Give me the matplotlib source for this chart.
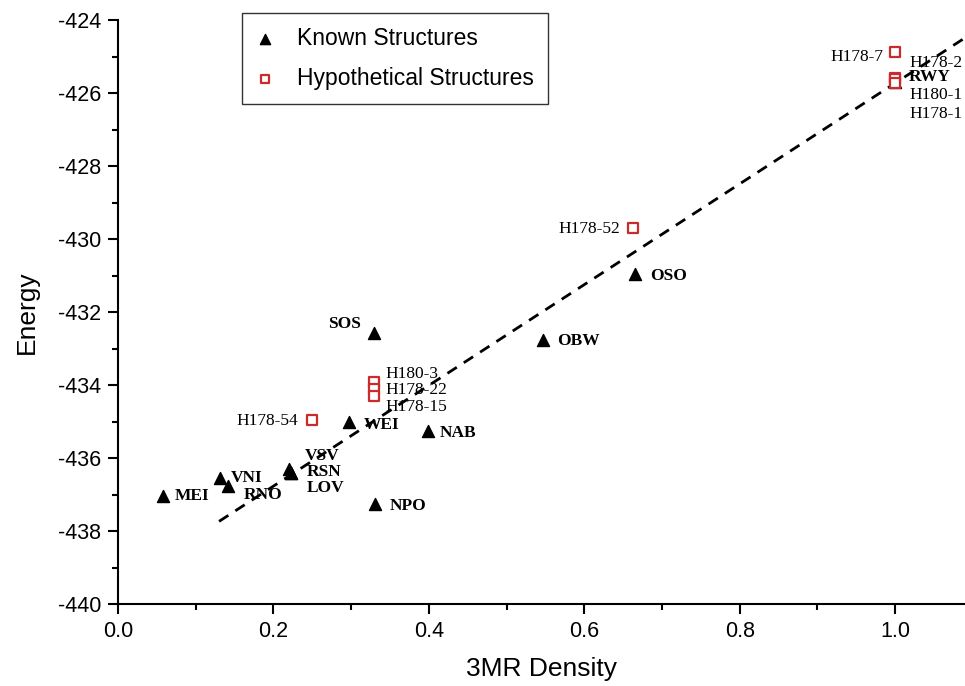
import numpy as np
import matplotlib.pyplot as plt
from matplotlib.ticker import MultipleLocator

# known structures
known_names = ['MEI', 'VNI', 'RNO', 'VSV', 'RSN', 'LOV', 'WEI', 'SOS', 'NPO',
               'NAB', 'OBW', 'OSO', 'RWY']
known_x = [0.058, 0.131, 0.142, 0.220, 0.222, 0.222, 0.297, 0.329, 0.331,
           0.399, 0.547, 0.665, 1.0]
known_y = [-437.05, -436.55, -436.78, -436.30, -436.40, -436.40, -435.0, -432.58,
           -437.25, -435.27, -432.78, -430.95, -425.7]

# hypothetical structures
hyp_names = ['H178-7', 'H178-2', 'H180-1', 'H178-1', 'H178-52', 'H180-3',
             'H178-22', 'H178-15', 'H178-54']
hyp_x = [1.0, 1.0, 1.0, 1.0, 0.663, 0.329, 0.329, 0.329, 0.249]
hyp_y = [-424.88, -425.58, -425.62, -425.72, -429.70, -433.92, -434.12,
         -434.30, -434.95]

# fitted line
fit_slope = 13.8
fit_intercept = -439.53
fit_x0 = 0.13

# label offsets (pixels) and alignment
known_off = {'MEI': (12, 0, 'left'), 'VNI': (11, 0, 'left'), 'RNO': (15, -9, 'left'),
             'VSV': (16, 13, 'left'), 'RSN': (16, 1, 'left'), 'LOV': (16, -15, 'left'),
             'WEI': (15, -3, 'left'), 'SOS': (-13, 9, 'right'), 'NPO': (14, -2, 'left'),
             'NAB': (12, -2, 'left'), 'OBW': (14, -1, 'left'), 'OSO': (15, -2, 'left'),
             'RWY': (14, 5, 'left')}
hyp_off = {'H178-7': (-12, -5, 'right'), 'H178-2': (14, 15, 'left'),
           'H180-1': (14, -16, 'left'), 'H178-1': (14, -31, 'left'),
           'H178-52': (-13, -1, 'right'), 'H180-3': (12, 8, 'left'),
           'H178-22': (12, -1, 'left'), 'H178-15': (12, -11, 'left'),
           'H178-54': (-13, -1, 'right')}

fig = plt.figure(figsize=(9.65, 6.86), dpi=100)
ax = fig.add_axes([0.1223, 0.1195, 0.8777, 0.8513])

xs = np.array([fit_x0, 1.2])
ax.plot(xs, fit_intercept + fit_slope * xs, color='black', lw=2, ls=(0, (4, 3)), zorder=2)

ax.scatter(known_x, known_y, marker='^', s=75, color='black', zorder=3,
           label='Known Structures')
ax.scatter(hyp_x, hyp_y, marker='s', s=45, facecolor='white', edgecolor='#cc2b2b',
           linewidth=1.6, zorder=4, label='Hypothetical Structures')

for name, x, y in zip(known_names, known_x, known_y):
    dx, dy, ha = known_off[name]
    ax.annotate(name, (x, y), xytext=(dx, dy), textcoords='offset pixels',
                ha=ha, va='center', fontsize=12.5, fontweight='bold',
                family='Liberation Serif', zorder=5)
for name, x, y in zip(hyp_names, hyp_x, hyp_y):
    dx, dy, ha = hyp_off[name]
    ax.annotate(name, (x, y), xytext=(dx, dy), textcoords='offset pixels',
                ha=ha, va='center', fontsize=12.5, family='Liberation Serif', zorder=5)

ax.set_xlim(0, 1.09)
ax.set_ylim(-440, -424)
ax.xaxis.set_major_locator(MultipleLocator(0.2))
ax.xaxis.set_minor_locator(MultipleLocator(0.1))
ax.yaxis.set_major_locator(MultipleLocator(2))
ax.yaxis.set_minor_locator(MultipleLocator(1))
ax.xaxis.set_major_formatter(lambda v, p: f'{v:.1f}')
ax.yaxis.set_major_formatter(lambda v, p: f'{v:.0f}')

for s in ['top', 'right']:
    ax.spines[s].set_visible(False)
for s in ['left', 'bottom']:
    ax.spines[s].set_linewidth(1.5)
ax.tick_params(which='major', direction='out', length=7, width=1.5,
               labelsize=15.5, pad=5)
ax.tick_params(which='minor', direction='out', length=4, width=1.5)
for lab in ax.get_xticklabels() + ax.get_yticklabels():
    lab.set_family('Liberation Sans')

ax.set_xlabel('3MR Density', fontsize=19, family='Liberation Sans', labelpad=11)
ax.set_ylabel('Energy', fontsize=19, family='Liberation Sans', labelpad=14)

leg = ax.legend(loc='upper left', bbox_to_anchor=(0.1464, 1.012), frameon=True,
                fancybox=False, edgecolor='black', borderaxespad=0,
                prop={'family': 'Liberation Sans', 'size': 16.5},
                markerscale=0.85, handlelength=0.8, handletextpad=1.0,
                borderpad=0.6, labelspacing=0.75)
leg.get_frame().set_linewidth(1.0)

fig.savefig('out.png', dpi=100)
